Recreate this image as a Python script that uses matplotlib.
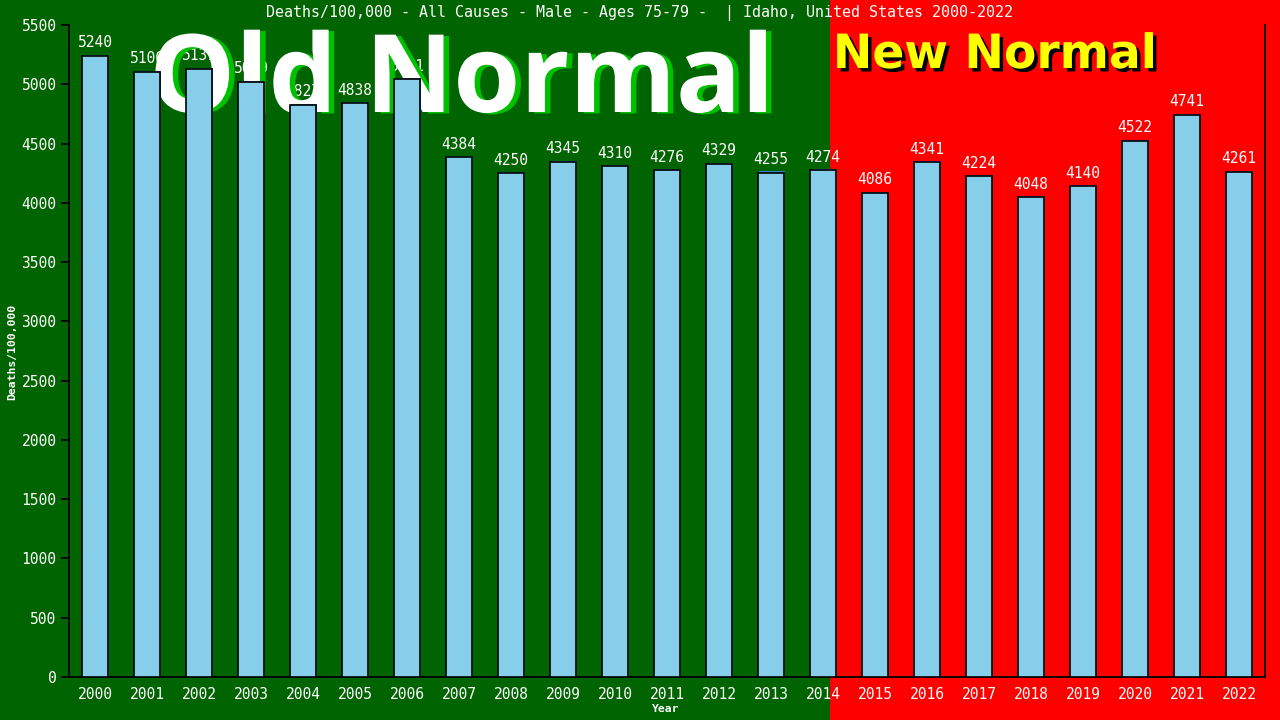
import matplotlib
matplotlib.use("Agg")
import matplotlib.pyplot as plt
import matplotlib.patheffects as pe
from matplotlib.patches import Rectangle

years = ["2000", "2001", "2002", "2003", "2004", "2005", "2006", "2007", "2008", "2009",
         "2010", "2011", "2012", "2013", "2014", "2015", "2016", "2017", "2018", "2019",
         "2020", "2021", "2022"]
deaths = [5240, 5106, 5131, 5019, 4827, 4838, 5041, 4384, 4250, 4345,
          4310, 4276, 4329, 4255, 4274, 4086, 4341, 4224, 4048, 4140,
          4522, 4741, 4261]
yticks = [0, 500, 1000, 1500, 2000, 2500, 3000, 3500, 4000, 4500, 5000, 5500]

title = "Deaths/100,000 - All Causes - Male - Ages 75-79 -  | Idaho, United States 2000-2022"

GREEN = "#006400"
RED = "#ff0000"
mono = "DejaVu Sans Mono"

fig = plt.figure(figsize=(12.8, 7.2), dpi=100, facecolor=GREEN)
fig.patches.append(Rectangle((830 / 1280, 0), 1 - 830 / 1280, 1, transform=fig.transFigure,
                             facecolor=RED, edgecolor="none", zorder=-5))

ax = fig.add_axes([69 / 1280, 43 / 720, 1196 / 1280, 652 / 720])
ax.set_facecolor("none")
x = list(range(len(years)))
bars = ax.bar(x, deaths, width=0.5, color="#87ceeb", edgecolor="black", linewidth=1.2, zorder=3)
for b in bars:
    b.set_path_effects([pe.SimplePatchShadow(offset=(1.0, 0.8), shadow_rgbFace="#3a7fc0", alpha=1.0),
                        pe.Normal()])

for xi, v in zip(x, deaths):
    ax.annotate(str(v), (xi, v), xytext=(0, 4), textcoords="offset points",
                ha="center", va="bottom", color="white", fontsize=10.5, family=mono, zorder=1)

ax.set_xlim(-0.5, len(years) - 0.5)
ax.set_ylim(0, 5500)
ax.set_yticks(yticks)
ax.set_yticklabels([str(t) for t in yticks])
ax.set_xticks(x)
ax.set_xticklabels(years)
ax.tick_params(axis="y", colors="black", labelcolor="white", labelsize=10.5, direction="out",
               length=6, width=1.2, pad=3)
ax.tick_params(axis="x", length=0, labelcolor="white", labelsize=10.5, pad=7)
for lab in ax.get_xticklabels() + ax.get_yticklabels():
    lab.set_family(mono)
for s in ["left", "bottom", "right"]:
    ax.spines[s].set_color("black")
    ax.spines[s].set_linewidth(1.3)
ax.spines["top"].set_visible(False)

fig.text(12 / 1280, 1 - 352 / 720, "Deaths/100,000", rotation=90, ha="center", va="center",
         color="white", fontsize=8.2, fontweight="bold", family=mono)
fig.text(666 / 1280, 1 - 709 / 720, "Year", ha="center", va="center",
         color="white", fontsize=8.2, fontweight="bold", family=mono)
fig.text(640 / 1280, 1 - 13 / 720, title, ha="center", va="center",
         color="white", fontsize=10.8, family=mono)

ax.text(462 / 1280, 1 - 112 / 720, "Old Normal", transform=fig.transFigure, ha="center", va="baseline",
        color="white", fontsize=78, fontweight="bold", family="Open Sans", zorder=2, clip_on=False,
        path_effects=[pe.withSimplePatchShadow(offset=(4, -1), shadow_rgbFace="#00c000", alpha=1.0)])
ax.text(995 / 1280, 1 - 68 / 720, "New Normal", transform=fig.transFigure, ha="center", va="baseline",
        color="#ffff00", fontsize=34, fontweight="bold", family="DejaVu Sans", zorder=2, clip_on=False,
        path_effects=[pe.withSimplePatchShadow(offset=(2.5, -2.5), shadow_rgbFace="black", alpha=1.0)])

fig.savefig("out.png", dpi=100, facecolor=GREEN)
